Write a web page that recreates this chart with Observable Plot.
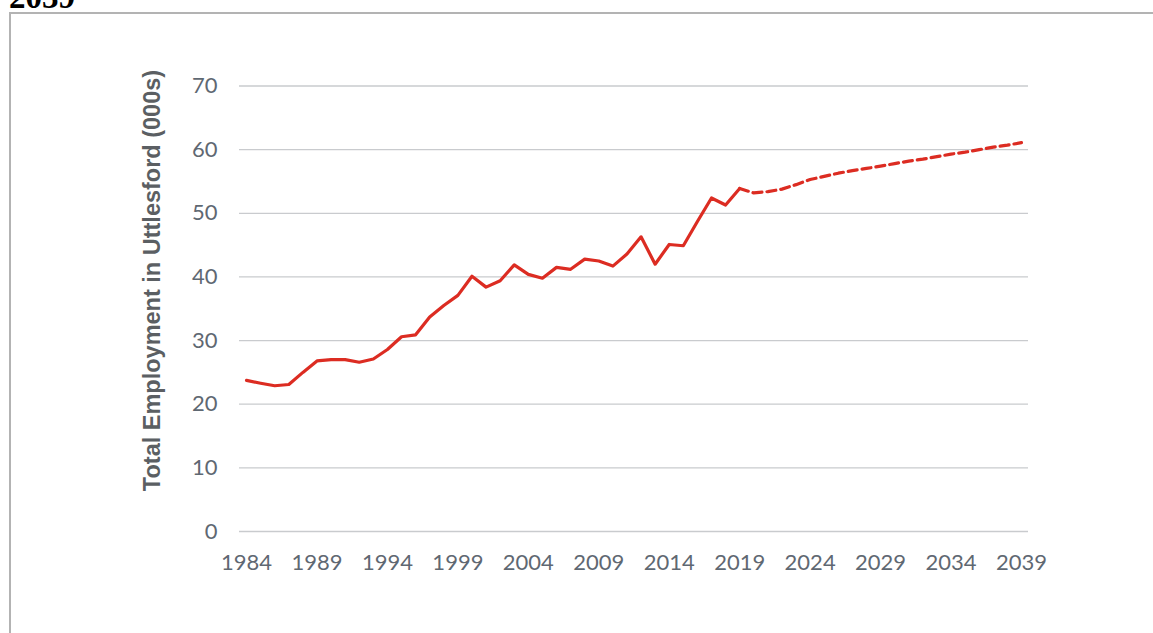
<!DOCTYPE html>
<html>
<head>
<meta charset="utf-8">
<script src="https://cdn.jsdelivr.net/npm/d3@7"></script>
<script src="https://cdn.jsdelivr.net/npm/@observablehq/plot@0.6"></script>
<style>
  html, body { margin: 0; padding: 0; background: #fff; overflow: hidden; }
  #wrap { position: relative; width: 1153px; height: 633px; overflow: hidden; }
  #frame { position: absolute; left: 9px; top: 12px; width: 1200px; height: 700px;
           border-top: 2px solid #b3b3b3; border-left: 2px solid #b3b3b3; box-sizing: border-box; }
  #cut { position: absolute; left: 9px; top: -19.5px; font-family: "Liberation Serif", serif;
         font-weight: bold; font-size: 33px; line-height: 33px; color: #000; white-space: nowrap; }
  #chart { position: absolute; left: 0; top: 0; }
</style>
</head>
<body>
<div id="wrap">
  <div id="cut">2039</div>
  <div id="frame"></div>
  <div id="chart"></div>
</div>
<script>
const historicYears = [1984,1985,1986,1987,1988,1989,1990,1991,1992,1993,1994,1995,1996,1997,1998,1999,2000,2001,2002,2003,2004,2005,2006,2007,2008,2009,2010,2011,2012,2013,2014,2015,2016,2017,2018,2019];
const historicValues = [23.75,23.3,22.9,23.1,25.0,26.8,27.0,27.0,26.6,27.1,28.6,30.6,30.9,33.7,35.5,37.1,40.1,38.4,39.4,41.9,40.4,39.8,41.5,41.2,42.8,42.5,41.7,43.6,46.3,42.0,45.1,44.9,48.7,52.4,51.3,53.9];
const projectionYears = [2019,2020,2021,2022,2023,2024,2025,2026,2027,2028,2029,2030,2031,2032,2033,2034,2035,2036,2037,2038,2039];
const projectionValues = [53.9,53.2,53.4,53.8,54.5,55.3,55.8,56.3,56.7,57.05,57.4,57.8,58.2,58.5,58.9,59.3,59.6,60.0,60.4,60.7,61.1];
const xTickYears = [1984,1989,1994,1999,2004,2009,2014,2019,2024,2029,2034,2039];
const yTicks = [0,10,20,30,40,50,60,70];
const yTitle = "Total Employment in Uttlesford (000s)";

const historic = historicYears.map((y, i) => ({year: y, value: historicValues[i]}));
const projection = projectionYears.map((y, i) => ({year: y, value: projectionValues[i]}));

const red = "#dc2c22";
const tickFill = "#5f6872";
const tickFont = "Lato, 'Open Sans', sans-serif";

const chart = Plot.plot({
  width: 1153,
  height: 633,
  marginLeft: 239,
  marginRight: 125,
  marginTop: 85.5,
  marginBottom: 102,
  style: {background: "transparent", overflow: "visible"},
  x: {type: "linear", domain: [1983.5, 2039.5]},
  y: {domain: [0, 70]},
  marks: [
    Plot.gridY(yTicks, {stroke: "#c9cbce", strokeOpacity: 1, strokeWidth: 1.3}),
    Plot.axisY(yTicks, {tickSize: 0, tickPadding: 22, label: null, fontSize: 22, fontFamily: tickFont, fontWeight: 400, fill: tickFill, tickFormat: d => String(d)}),
    Plot.axisX(xTickYears, {tickSize: 0, tickPadding: 23, label: null, fontSize: 22, fontFamily: tickFont, fontWeight: 400, fill: tickFill, tickFormat: d => String(d)}),
    Plot.line(historic, {x: "year", y: "value", stroke: red, strokeWidth: 3.2}),
    Plot.line(projection, {x: "year", y: "value", stroke: red, strokeWidth: 3.2, strokeDasharray: "9,5"}),
    Plot.text([yTitle], {frameAnchor: "top-left", dx: -87, dy: 194.5, rotate: -90, text: d => d,
      fontSize: 23.5, fontWeight: "bold", fontFamily: "'Liberation Sans', Arial, sans-serif", fill: "#5b5f63", textAnchor: "middle", lineAnchor: "middle"})
  ]
});
document.getElementById("chart").appendChild(chart);
</script>
</body>
</html>
